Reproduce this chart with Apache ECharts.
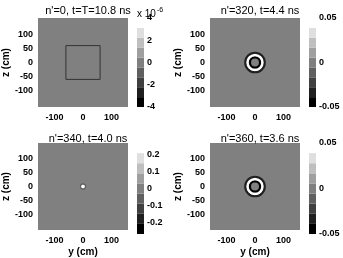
<!DOCTYPE html>
<html>
<head>
<meta charset="utf-8">
<style>
  html, body { margin: 0; padding: 0; background: #fff; }
  #chart { width: 343px; height: 258px; }
</style>
<script src="https://cdn.jsdelivr.net/npm/echarts@6/dist/echarts.min.js"></script>
</head>
<body>
<div id="chart"></div>
<script>
// panel titles
const titles = ["n'=0, t=T=10.8 ns", "n'=320, t=4.4 ns", "n'=340, t=4.0 ns", "n'=360, t=3.6 ns"]
// spatial axes (cm)
const axisMin = -158
const axisMax = 158
const yTicks = [-100, 0, 100]
const zTicks = [-100, -50, 0, 50, 100]
// colour scale range per panel
const cbMin = [-4e-6, -0.05, -0.27, -0.05]
const cbMax = [4e-6, 0.05, 0.27, 0.05]
const cbTicks = [
  [-4e-6, -2e-6, 0, 2e-6, 4e-6],
  [-0.05, 0, 0.05],
  [-0.2, -0.1, 0, 0.1, 0.2],
  [-0.05, 0, 0.05]
]
// panel 1: source box outline (cm)
const boxY = [-60, 60, 60, -60, -60]
const boxZ = [-60, -60, 60, 60, -60]
// radial profiles: outer radius of each ring (cm) and its field value
const radii320 = [14, 22, 31, 38]
const values320 = [0, -0.05, 0.05, -0.028]
const radii340 = [7, 11]
const values340 = [0.27, -0.09]
const radii360 = [14, 22, 31, 38]
const values360 = [0, -0.05, 0.05, -0.032]

const grays = ['#000000', '#202020', '#404040', '#606060', '#808080', '#9f9f9f', '#bfbfbf', '#dfdfdf', '#ffffff']
const font = "'Liberation Sans', Arial, sans-serif"

// panel layout (px)
const plotLeft = [38, 210, 38, 210]
const plotTop = [18, 18, 143, 143]
const plotW = 90
const plotH = [89, 89, 91, 91]
const cbLeft = [137, 309, 137, 309]
const cbW = 7

function ringItems(radii, values) {
  return radii.map((r, i) => [i === 0 ? 0 : radii[i - 1], r, values[i]])
}
const profiles = [[], ringItems(radii320, values320), ringItems(radii340, values340), ringItems(radii360, values360)]

function renderRing(params, api) {
  const c = api.coord([0, 0])
  const r0 = api.size([api.value(0), 0])[0]
  const r = api.size([api.value(1), 0])[0]
  return {
    type: 'ring',
    shape: { cx: c[0], cy: c[1], r: r, r0: r0 },
    style: { fill: api.visual('color') }
  }
}

function renderBand(params, api) {
  const p0 = api.coord([0, api.value(0)])
  const p1 = api.coord([1, api.value(1)])
  return {
    type: 'rect',
    shape: { x: p0[0], y: p1[1], width: p1[0] - p0[0], height: p0[1] - p1[1] },
    style: { fill: api.visual('color') }
  }
}

const grid = [], xAxis = [], yAxis = [], series = [], visualMap = [], title = []

for (let i = 0; i < 4; i++) {
  const bottom = i >= 2
  // field grid
  grid.push({ left: plotLeft[i], top: plotTop[i], width: plotW, height: plotH[i], show: true, backgroundColor: '#808080', borderWidth: 0 })
  // colour bar grid
  grid.push({ left: cbLeft[i], top: plotTop[i], width: cbW, height: plotH[i], show: false })

  xAxis.push({
    type: 'value', gridIndex: 2 * i, min: axisMin, max: axisMax,
    name: bottom ? 'y (cm)' : '', nameLocation: 'middle', nameGap: 17,
    nameTextStyle: { fontFamily: font, fontWeight: 'bold', fontSize: 10, color: '#000' },
    axisLine: { show: false }, axisTick: { show: false }, splitLine: { show: false },
    axisLabel: { customValues: yTicks, margin: 6, fontFamily: font, fontWeight: 'bold', fontSize: 9, color: '#000' }
  })
  yAxis.push({
    type: 'value', gridIndex: 2 * i, min: axisMin, max: axisMax,
    name: 'z (cm)', nameLocation: 'middle', nameRotate: 90, nameGap: 22,
    nameTextStyle: { fontFamily: font, fontWeight: 'bold', fontSize: 10, color: '#000' },
    axisLine: { show: false }, axisTick: { show: false }, splitLine: { show: false },
    axisLabel: { customValues: zTicks, margin: 5, fontFamily: font, fontWeight: 'bold', fontSize: 9, color: '#000' }
  })
  xAxis.push({ type: 'value', gridIndex: 2 * i + 1, min: 0, max: 1, show: false })
  const scale = i === 0 ? 1e6 : 1
  yAxis.push({
    type: 'value', gridIndex: 2 * i + 1, min: cbMin[i], max: cbMax[i], position: 'right',
    axisLine: { show: false }, axisTick: { show: false }, splitLine: { show: false },
    axisLabel: {
      customValues: cbTicks[i], margin: 3, fontFamily: font, fontWeight: 'bold', fontSize: 9, color: '#000',
      formatter: v => String(Math.round(v * scale * 100) / 100)
    }
  })

  // colour bar bands and matching pieces
  const step = (cbMax[i] - cbMin[i]) / grays.length
  const bands = grays.map((g, k) => [cbMin[i] + k * step, cbMin[i] + (k + 1) * step, cbMin[i] + (k + 0.5) * step])
  const pieces = bands.map((b, k) => k === grays.length - 1
    ? { gte: b[0], lte: cbMax[i] + step, color: grays[k] }
    : { gte: k === 0 ? cbMin[i] - step : b[0], lt: b[1], color: grays[k] })
  const seriesIdx = []
  seriesIdx.push(series.length)
  series.push({ type: 'custom', xAxisIndex: 2 * i + 1, yAxisIndex: 2 * i + 1, renderItem: renderBand, data: bands, silent: true })
  if (profiles[i].length) {
    seriesIdx.push(series.length)
    series.push({ type: 'custom', xAxisIndex: 2 * i, yAxisIndex: 2 * i, renderItem: renderRing, data: profiles[i], clip: true, silent: true })
  }
  visualMap.push({
    type: 'piecewise', show: false, dimension: 2, seriesIndex: seriesIdx, pieces: pieces
  })

  title.push({
    text: titles[i], left: plotLeft[i] + plotW / 2, top: bottom ? 128 : 0, textAlign: 'center',
    textStyle: { fontFamily: font, fontWeight: 'normal', fontSize: 11, color: '#000' }
  })
}

// panel 1 box outline
series.push({
  type: 'line', xAxisIndex: 0, yAxisIndex: 0, symbol: 'none', silent: true,
  data: boxY.map((y, k) => [y, boxZ[k]]),
  lineStyle: { color: '#333333', width: 1 }
})

const myChart = echarts.init(document.querySelector('#chart'))
myChart.setOption({
  animation: false,
  title: title,
  grid: grid,
  xAxis: xAxis,
  yAxis: yAxis,
  visualMap: visualMap,
  series: series,
  graphic: [{
    type: 'text', left: 137, top: 7,
    style: {
      text: 'x 10{s|-6}', fontFamily: font, fontSize: 10, fill: '#000',
      rich: { s: { fontSize: 7, verticalAlign: 'top', padding: [0, 0, 8, 1] } }
    }
  }]
})
</script>
</body>
</html>
